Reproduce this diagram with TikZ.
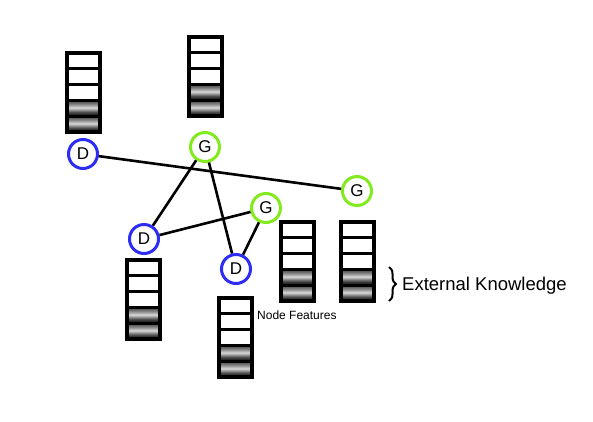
\documentclass[tikz,border=0pt]{standalone}
\usepackage{fontspec}
\setmainfont{Liberation Sans}
\usetikzlibrary{decorations.pathreplacing}
\definecolor{dblue}{RGB}{45,45,245}
\definecolor{ggreen}{RGB}{130,235,30}
\pgfdeclareverticalshading{cellshade}{100bp}{color(0bp)=(black); color(25bp)=(black); color(38bp)=(black!70); color(52bp)=(black!15); color(62bp)=(black!45); color(75bp)=(black!75); color(100bp)=(black!75)}
\tikzset{
  dnode/.style={circle, draw=dblue, line width=3pt, minimum size=29pt, inner sep=0pt, fill=white, font=\fontsize{17}{17}\selectfont},
  gnode/.style={circle, draw=ggreen, line width=3pt, minimum size=29pt, inner sep=0pt, fill=white, font=\fontsize{17}{17}\selectfont},
  edge/.style={line width=2.6pt, draw=black},
  cellbox/.style={draw=black, line width=2.8pt},
  shadedcell/.style={cellbox, shading=cellshade},
  featstack/.pic={
    \foreach \i in {0,1,2}
      \draw[cellbox, fill=white] (0,\i*15.8) rectangle (33,\i*15.8+15.8);
    \foreach \i in {3,4}
      \draw[shadedcell] (0,\i*15.8) rectangle (33,\i*15.8+15.8);
    \draw[line width=3.2pt] (0,0) rectangle (33,79);
  }
}
\begin{document}
\begin{tikzpicture}[x=1pt,y=-1pt]
\useasboundingbox (0,0) rectangle (593,421);
% feature stacks
\pic at (67,53) {featstack};
\pic at (189,37) {featstack};
\pic at (281,222) {featstack};
\pic at (341,222) {featstack};
\pic at (219,298) {featstack};
\pic at (127,260) {featstack};
% graph nodes
\node[dnode] (d1) at (83,154) {D};
\node[gnode] (g1) at (205,147) {G};
\node[gnode] (g2) at (357,191) {G};
\node[gnode] (g3) at (266,208) {G};
\node[dnode] (d2) at (144,239) {D};
\node[dnode] (d3) at (236,269) {D};
% edges
\draw[edge] (d1) -- (g2);
\draw[edge] (g1) -- (d2);
\draw[edge] (g1) -- (d3);
\draw[edge] (d2) -- (g3);
\draw[edge] (g3) -- (d3);
% labels
\node[anchor=west, inner sep=0pt, font=\fontsize{12}{12}\selectfont] (nf) at (257,315) {Node Features};
\coordinate (bt) at (389,267);
\coordinate (bb) at (389,301);
\draw[line width=2pt, decorate, decoration={brace, amplitude=7pt}] (bt) -- (bb);
\node[anchor=west, inner sep=0pt, font=\fontsize{18.5}{18.5}\selectfont] (ek) at (402,286) {External Knowledge};
\end{tikzpicture}
\end{document}
